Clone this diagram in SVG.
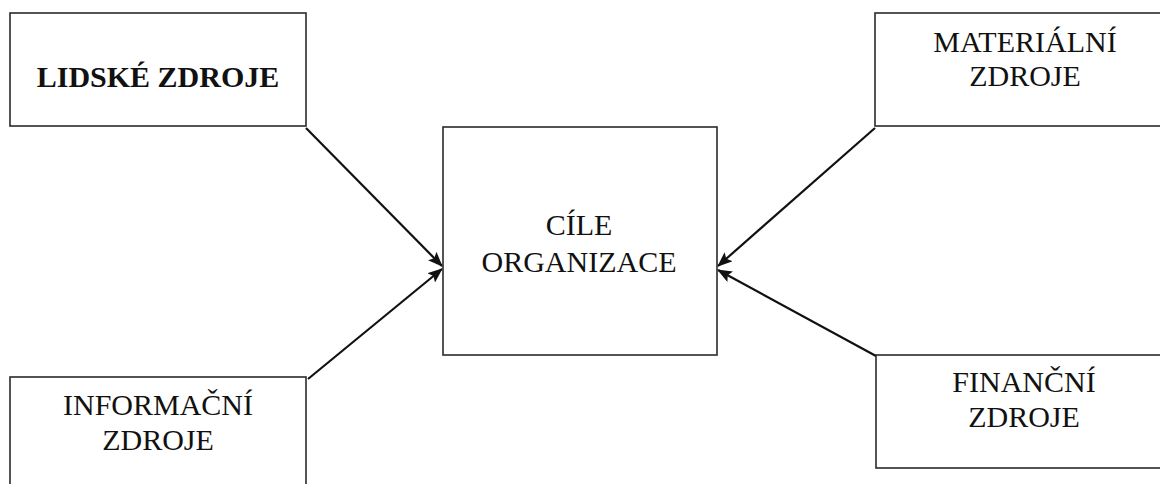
<svg xmlns="http://www.w3.org/2000/svg" width="1160" height="484" viewBox="0 0 1160 484">
<defs>
<style>
.box{fill:#fff;stroke:#2a2a2a;stroke-width:1.6}
.t{font-family:"Liberation Serif","Times New Roman",serif;font-size:30px;fill:#111;text-anchor:middle}
.b{font-weight:bold}
.c{stroke:#111;stroke-width:2.2;fill:none;marker-end:url(#ah)}
</style>
<marker id="ah" viewBox="0 0 15 12" refX="14" refY="6" markerWidth="15" markerHeight="12" markerUnits="userSpaceOnUse" orient="auto">
<path d="M0,0 L15,6 L0,12 L3,6 z" fill="#111"/>
</marker>
</defs>
<rect width="1160" height="484" fill="#fff"/>
<g id="connectors">
<line class="c" x1="306" y1="128" x2="442" y2="266"/>
<line class="c" x1="308" y1="379" x2="442" y2="269"/>
<line class="c" x1="875" y1="128" x2="718" y2="266"/>
<line class="c" x1="876" y1="356" x2="718" y2="270"/>
</g>
<g id="lidske">
<rect class="box" x="10" y="13" width="296" height="113"/>
<text class="t b" x="158" y="87">LIDSKÉ ZDROJE</text>
</g>
<g id="materialni">
<rect class="box" x="875" y="13" width="290" height="113"/>
<text class="t" x="1025" y="52">MATERIÁLNÍ</text>
<text class="t" x="1025" y="86">ZDROJE</text>
</g>
<g id="cile">
<rect class="box" x="443" y="127" width="274" height="228"/>
<text class="t" x="579" y="235">CÍLE</text>
<text class="t" x="579" y="272">ORGANIZACE</text>
</g>
<g id="informacni">
<rect class="box" x="10" y="377" width="296" height="120"/>
<text class="t" x="158" y="415">INFORMAČNÍ</text>
<text class="t" x="158" y="450">ZDROJE</text>
</g>
<g id="financni">
<rect class="box" x="876" y="355" width="290" height="113"/>
<text class="t" x="1024" y="392">FINANČNÍ</text>
<text class="t" x="1024" y="427">ZDROJE</text>
</g>
</svg>
